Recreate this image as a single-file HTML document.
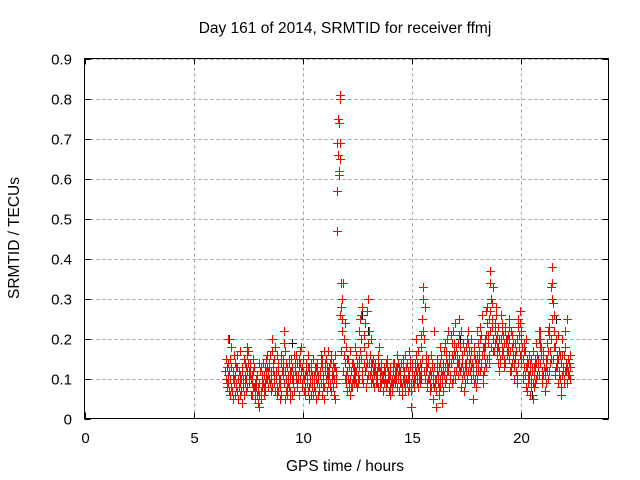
<!DOCTYPE html>
<html><head><meta charset="utf-8"><style>
html,body{margin:0;padding:0;background:#fff;width:640px;height:480px;overflow:hidden}
svg{display:block;font-family:"Liberation Sans",sans-serif}
</style></head><body>
<svg id="chart" width="640" height="480" viewBox="0 0 640 480">
<text x="345" y="33" font-size="15.5" text-anchor="middle" fill="#000">Day 161 of 2014, SRMTID for receiver ffmj</text>
<g id="grid" shape-rendering="crispEdges"></g>
<g id="ticks" shape-rendering="crispEdges"></g>
<g id="black" shape-rendering="crispEdges"></g>
<g id="red" shape-rendering="crispEdges"></g>
<rect x="84.5" y="58.5" width="524" height="360" fill="none" stroke="#000" stroke-width="1" shape-rendering="crispEdges"/>
<text x="345" y="471" font-size="15.5" text-anchor="middle">GPS time / hours</text>
<text x="0" y="0" font-size="15.5" text-anchor="middle" transform="translate(19,238) rotate(-90)">SRMTID / TECUs</text>
</svg>
<script>
const xTicks=[0,5,10,15,20];
const yTicks=[0,0.1,0.2,0.3,0.4,0.5,0.6,0.7,0.8,0.9];
const yTickLabels=["0","0.1","0.2","0.3","0.4","0.5","0.6","0.7","0.8","0.9"];
const rowTimes=[6.5,6.6,6.7,6.8,6.9,7.0,7.1,7.2,7.3,7.4,7.5,7.6,7.7,7.8,7.9,8.0,8.1,8.2,8.3,8.4,8.5,8.6,8.7,8.8,8.9,9.0,9.1,9.2,9.3,9.4,9.5,9.6,9.7,9.8,9.9,10.0,10.1,10.2,10.3,10.4,10.5,10.6,10.7,10.8,10.9,11.0,11.1,11.2,11.3,11.4,11.5,11.6,11.7,11.8,11.9,12.0,12.1,12.2,12.3,12.4,12.5,12.6,12.7,12.8,12.9,13.0,13.1,13.2,13.3,13.4,13.5,13.6,13.7,13.8,13.9,14.0,14.1,14.2,14.3,14.4,14.5,14.6,14.7,14.8,14.9,15.0,15.1,15.2,15.3,15.4,15.5,15.6,15.7,15.8,15.9,16.0,16.1,16.2,16.3,16.4,16.5,16.6,16.7,16.8,16.9,17.0,17.1,17.2,17.3,17.4,17.5,17.6,17.7,17.8,17.9,18.0,18.1,18.2,18.3,18.4,18.5,18.6,18.7,18.8,18.9,19.0,19.1,19.2,19.3,19.4,19.5,19.6,19.7,19.8,19.9,20.0,20.1,20.2,20.3,20.4,20.5,20.6,20.7,20.8,20.9,21.0,21.1,21.2,21.3,21.4,21.5,21.6,21.7,21.8,21.9,22.0,22.1,22.2];
const rowValues=[
[12,8,15,10,13,9],[20,11,7,14,9,12],[18,6,10,13,8,15],[9,5,12,7,16,10],[14,8,11,6,10,13],
[13,7,10,5,16,9],[17,9,12,6,11,8],[10,4,13,7,9,12],[15,8,11,6,10,14],[12,7,9,16,10,13],
[18,10,14,8,12,17],[14,9,6,11,13,10],[12,6,9,15,8,11],[10,5,8,13,7,9],[8,4,11,6,10,7],
[9,3,12,6,14,8],[11,5,13,8,10,7],[14,6,11,9,13,8],[10,7,12,15,9,13],[12,8,10,14,11,16],
[13,7,16,10,12,9],[20,10,14,8,17,12],[18,9,13,7,11,15],[14,6,10,12,8,16],[12,5,9,13,7,10],
[16,8,12,6,14,10],[22,11,15,9,19,13],[17,7,12,5,10,14],[13,6,9,11,8,15],[10,5,8,12,7,14],
[12,6,10,15,9,13],[16,9,13,7,11,14],[14,10,12,8,16,11],[13,6,11,9,15,10],[17,8,12,10,14,18],
[15,9,7,12,11,13],[12,6,10,14,8,11],[14,7,11,9,13,16],[12,5,9,13,8,10],[10,6,14,8,11,12],
[15,8,11,6,13,9],[13,7,10,5,12,9],[11,6,14,8,10,12],[16,9,12,7,14,11],[13,8,11,6,15,10],
[14,5,10,12,8,17],[12,7,15,9,11,13],[17,8,13,10,14,11],[15,9,12,7,16,10],[13,8,11,6,10,14],
[16,10,13,5,12,9],[47,57,66,75,69,62],[81,80,74,69,65,61,34,26],[34,30,22,17,12,25,28],[20,14,10,16,12,24],
[15,9,12,7,11,18],[13,8,10,6,9,15],[17,9,12,10,14,8],[14,8,11,13,10,9],[16,10,13,9,12,18],
[12,9,14,8,11,10],[22,13,17,10,15,25],[28,15,20,12,10,26],[24,14,18,9,12,21],[16,10,13,8,12,14],
[30,19,22,14,11,27],[20,12,16,9,14,11],[14,9,12,10,13,15],[12,8,10,14,11,9],[13,9,11,15,10,12],
[16,10,13,8,12,18],[14,8,11,9,12,10],[12,7,10,13,9,11],[15,9,12,10,14,8],[13,7,10,12,9,11],
[11,6,9,13,8,10],[12,7,10,14,9,8],[14,9,12,10,13,11],[16,10,13,8,12,11],[13,7,10,9,12,14],
[12,6,9,11,8,14],[15,8,11,13,10,9],[13,9,12,10,7,16],[11,7,14,9,12,10],[17,9,13,10,8,15],
[12,3,9,14,11,7],[14,8,11,10,13,9],[16,9,12,20,11,14],[13,8,10,12,17,9],[18,10,14,12,21,11],
[25,33,30,15,12,22],[28,20,14,10,12,16],[15,9,12,10,8,13],[12,7,10,14,9,11],[16,9,13,11,8,14],
[13,5,10,8,22,11],[12,3,9,14,7,10],[15,6,11,9,13,8],[18,8,12,10,14,16],[14,4,9,12,7,11],
[17,9,13,11,15,19],[20,10,14,12,17,22],[16,8,12,10,14,13],[19,9,14,11,16,21],[22,12,17,15,10,19],
[18,10,14,12,16,24],[21,11,16,13,19,14],[25,13,18,15,22,12],[16,8,12,10,14,19],[14,7,11,9,13,17],
[18,10,14,12,16,20],[22,12,17,14,19,15],[20,10,15,13,17,12],[16,5,11,14,9,13],[15,8,12,10,18,14],
[19,10,14,12,16,22],[23,12,17,14,20,15],[21,11,16,13,18,26],[18,9,14,12,16,20],[24,13,18,15,21,27],
[28,16,21,19,25,14],[34,37,30,27,22,18],[33,29,25,20,17,23],[26,19,22,17,28,24],[21,14,18,16,20,23],
[17,12,15,14,20,18],[24,16,20,18,22,26],[21,15,19,17,23,13],[19,14,17,20,22,16],[23,17,20,25,18,21],
[20,13,17,15,22,12],[18,12,16,14,21,19],[16,10,13,15,19,14],[14,9,12,17,11,20],[25,16,21,18,23,27],
[22,14,18,16,20,24],[19,11,15,13,17,10],[17,8,13,11,15,20],[14,7,11,9,13,16],[12,6,10,8,14,11],
[15,9,12,10,17,13],[13,5,9,11,8,15],[16,10,13,11,19,14],[18,11,15,13,20,22],[20,12,16,14,22,18],
[15,9,13,11,17,10],[13,7,11,9,15,12],[19,10,15,12,22,17],[21,12,17,14,23,15],[34,38,33,30,25,20],
[29,18,22,15,12,26],[20,11,16,13,18,14],[17,9,13,11,21,15],[14,6,10,12,8,16],[16,9,13,11,20,12],
[18,10,14,12,22,16],[15,9,12,11,25,13],[12,10,14,11,13,16]
];
const blackTimes=[6.6,9.5,12.7,13.0,15.4,17.2,20.5,21.6,22.1];
const blackValues=[0.20,0.19,0.26,0.22,0.13,0.20,0.06,0.25,0.25];

const X0=84.5,X1=608.5,Y0=418.5,Y1=58.5;
function xs(t){return X0+(t-0)/24*(X1-X0);}
function ys(v){return Y0-(v-0)/0.9*(Y0-Y1);}
const NS="http://www.w3.org/2000/svg";
function mk(tag,attrs,parent){const e=document.createElementNS(NS,tag);for(const k in attrs)e.setAttribute(k,attrs[k]);parent.appendChild(e);return e;}
const grid=document.getElementById('grid'),ticks=document.getElementById('ticks');
xTicks.forEach(t=>{
  const x=Math.round(xs(t))+0.5;
  if(t>0){const g=mk('line',{x1:x,x2:x,y1:Y0,y2:Y1,stroke:'#a0a0a0','stroke-dasharray':'3,3'},grid);
  
  }
  mk('line',{x1:x,x2:x,y1:Y0,y2:Y0-6,stroke:'#000'},ticks);
  mk('line',{x1:x,x2:x,y1:Y1,y2:Y1+6,stroke:'#000'},ticks);
  const l=mk('text',{x:x,y:443,'font-size':15,'text-anchor':'middle'},ticks);
  l.textContent=String(t);
  
  
});
yTicks.forEach((v,i)=>{
  const y=Math.round(ys(v))+0.5;
  if(v>0){const g=mk('line',{x1:X0,x2:X1,y1:y,y2:y,stroke:'#a0a0a0','stroke-dasharray':'3,3'},grid);
  
  }
  mk('line',{x1:X0,x2:X0+6,y1:y,y2:y,stroke:'#000'},ticks);
  mk('line',{x1:X1,x2:X1-6,y1:y,y2:y,stroke:'#000'},ticks);
  const l=mk('text',{x:72,y:y+5,'font-size':15,'text-anchor':'end'},ticks);
  l.textContent=yTickLabels[i];
  
  
});
// filled plus shape (integer pixel rects), avoids stroke rendering issues
function plus(cx,cy,color,parent){
  const x=Math.round(cx),y=Math.round(cy);
  const d=`M${x-4} ${y}h9v1h-9zM${x} ${y-4}h1v9h-1z`;
  return mk('path',{d:d,fill:color,style:'fill:'+color},parent);
}
const bl=document.getElementById('black');
blackTimes.forEach((t,i)=>{
  const p=plus(xs(t),ys(blackValues[i]),'#000000',bl);
  
  
});
const rd=document.getElementById('red');
rowTimes.forEach((t,r)=>{
  rowValues[r].forEach((v,j)=>{
    const off=((j*37+r*13)%10-4.5)*0.01;
    const p=plus(xs(t+off),ys(v/100),'#ff0000',rd);
    
    
  });
});
</script>
</body></html>
